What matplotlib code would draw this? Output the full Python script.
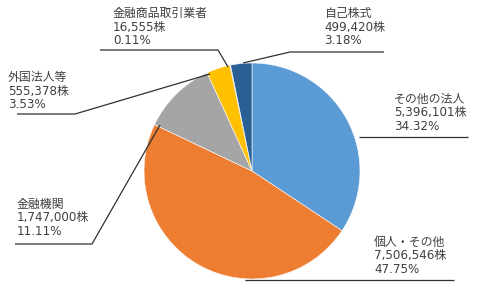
import matplotlib
matplotlib.use("Agg")
import matplotlib.pyplot as plt

plt.rcParams['font.family'] = ['DejaVu Sans', 'Noto Sans CJK JP']

categories = ["その他の法人", "個人・その他", "金融機関", "外国法人等", "金融商品取引業者", "自己株式"]
shares = [5396101, 7506546, 1747000, 555378, 16555, 499420]
colors = ["#5B9BD5", "#ED7D31", "#A5A5A5", "#FFC000", "#4472C4", "#2A5F94"]

W, H = 486, 290
CX, CY, R = 252, 171, 108

fig = plt.figure(figsize=(W / 100, H / 100), dpi=100)
ax = fig.add_axes([0, 0, 1, 1])
ax.pie(shares, colors=colors, startangle=90, counterclock=False, radius=1,
       wedgeprops=dict(edgecolor="white", linewidth=0.4))
ax.set_xlim(-CX / R, (W - CX) / R)
ax.set_ylim(-(H - CY) / R, CY / R)
ax.set_aspect("auto")
ax.axis("off")


def P(px, py):
    return ((px - CX) / R, (CY - py) / R)


# label layout: text left x, block center y (pixels), leader polyline (pixels)
layout = {
    "その他の法人": ((394, 113), [(359, 137), (468, 137)]),
    "個人・その他": ((374, 256), [(245, 280), (454, 280)]),
    "金融機関": ((17, 218), [(15, 244), (92, 244), (160, 125)]),
    "外国法人等": ((8, 91), [(17, 114), (75, 114), (210, 74)]),
    "金融商品取引業者": ((113, 27), [(100, 50), (218, 50), (228, 67)]),
    "自己株式": ((324, 27), [(384, 52), (290, 52), (243, 63)]),
}

total = sum(shares)
for name, v in zip(categories, shares):
    (tx, ty), pts = layout[name]
    label = f"{name}\n{v:,}株\n{v / total * 100:.2f}%"
    x, y = P(tx, ty)
    ax.text(x, y, label, ha="left", va="center", fontsize=8.6,
            color="#404040", linespacing=1.05)
    xs = [P(a, b)[0] for a, b in pts]
    ys = [P(a, b)[1] for a, b in pts]
    ax.plot(xs, ys, color="#303030", linewidth=0.9, solid_capstyle="butt")

fig.savefig("out.png", dpi=100)
